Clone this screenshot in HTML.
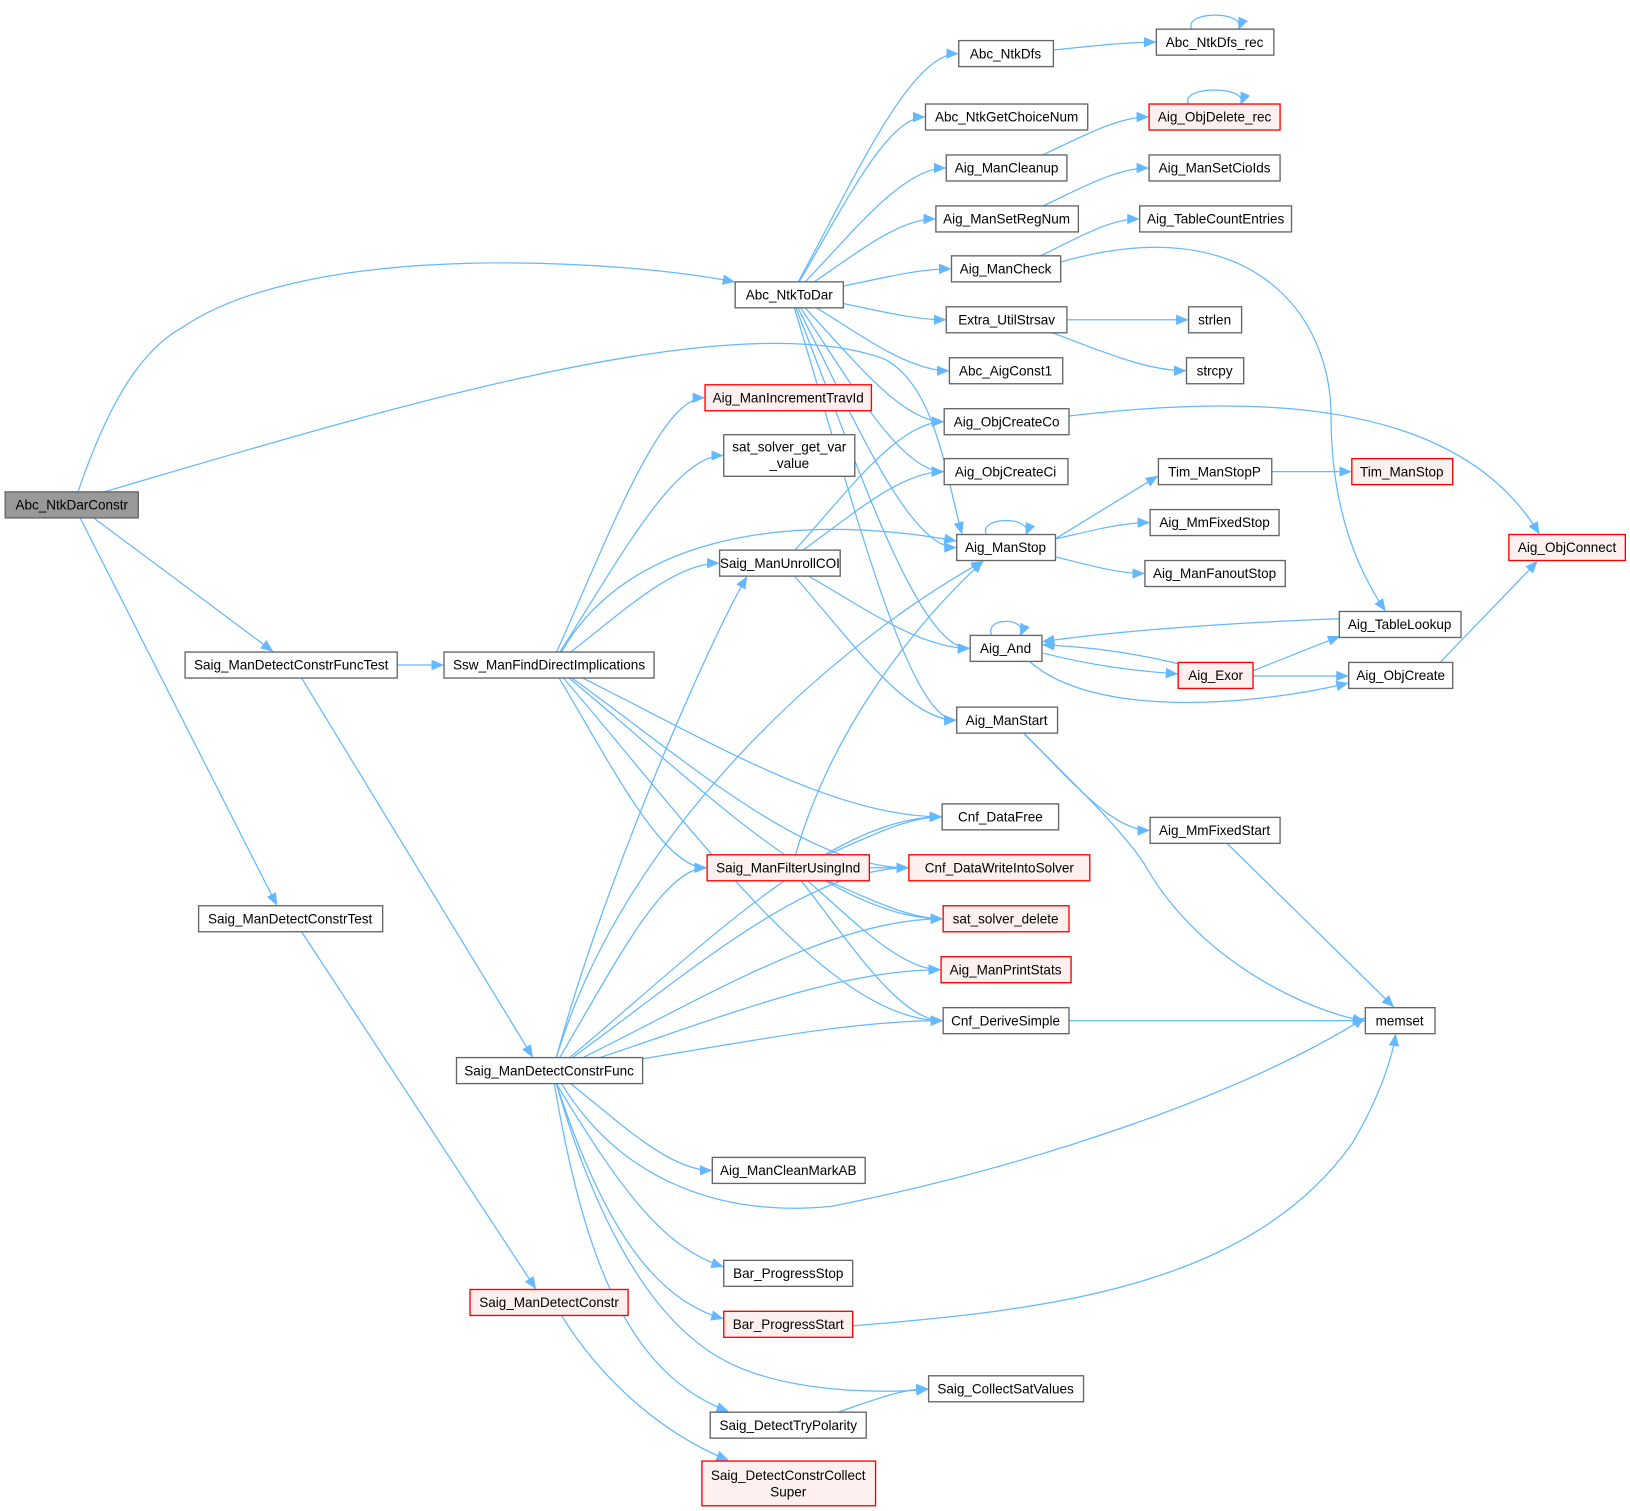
<!DOCTYPE html>
<html><head><meta charset="utf-8"><style>
html,body{margin:0;padding:0;background:#fff;}
svg{display:block;}
text{font-family:"Liberation Sans",Arial,sans-serif;font-size:13px;fill:#000;text-anchor:middle;}
.n{fill:#fff;stroke:#666;stroke-width:1.3;}
.r{fill:#fff0f0;stroke:#f00;stroke-width:1.3;}
.g{fill:#999;stroke:#666;stroke-width:1.3;}
.e{fill:none;stroke:#63b8ff;stroke-width:1.2;}
</style></head><body>
<svg id="s" width="1630" height="1511" viewBox="0 0 1567.5 1453" xmlns="http://www.w3.org/2000/svg">
<defs><marker id="a" markerWidth="12" markerHeight="10" refX="11" refY="5" orient="auto" markerUnits="userSpaceOnUse"><path d="M0,0 L12,5 L0,10 z" fill="#63b8ff"/></marker></defs>
<g id="edges"></g>
<g id="nodes">
<rect class="g" x="5" y="473" width="128" height="25"/><text x="69" y="490">Abc_NtkDarConstr</text>
<rect class="n" x="707" y="271" width="104" height="25"/><text x="759" y="288">Abc_NtkToDar</text>
<rect class="n" x="922" y="39" width="91" height="25"/><text x="967" y="56">Abc_NtkDfs</text>
<rect class="n" x="1112" y="28" width="113" height="25"/><text x="1168" y="45">Abc_NtkDfs_rec</text>
<rect class="n" x="890" y="100" width="156" height="25"/><text x="968" y="117">Abc_NtkGetChoiceNum</text>
<rect class="r" x="1105" y="100" width="126" height="25"/><text x="1168" y="117">Aig_ObjDelete_rec</text>
<rect class="n" x="910" y="149" width="116" height="25"/><text x="968" y="166">Aig_ManCleanup</text>
<rect class="n" x="1105" y="149" width="126" height="25"/><text x="1168" y="166">Aig_ManSetCioIds</text>
<rect class="n" x="900" y="198" width="137" height="25"/><text x="968" y="215">Aig_ManSetRegNum</text>
<rect class="n" x="1096" y="198" width="146" height="25"/><text x="1169" y="215">Aig_TableCountEntries</text>
<rect class="n" x="915" y="246" width="105" height="25"/><text x="967" y="263">Aig_ManCheck</text>
<rect class="n" x="910" y="295" width="116" height="25"/><text x="968" y="312">Extra_UtilStrsav</text>
<rect class="n" x="1143" y="295" width="51" height="25"/><text x="1168" y="312">strlen</text>
<rect class="n" x="913" y="344" width="109" height="25"/><text x="967" y="361">Abc_AigConst1</text>
<rect class="n" x="1141" y="344" width="55" height="25"/><text x="1168" y="361">strcpy</text>
<rect class="r" x="678" y="370" width="160" height="25"/><text x="758" y="387">Aig_ManIncrementTravId</text>
<rect class="n" x="908" y="393" width="120" height="25"/><text x="968" y="410">Aig_ObjCreateCo</text>
<rect class="n" x="696" y="418" width="126" height="40"/><text x="759" y="434">sat_solver_get_var</text><text x="759" y="450">_value</text>
<rect class="n" x="908" y="441" width="119" height="25"/><text x="967" y="458">Aig_ObjCreateCi</text>
<rect class="n" x="1114" y="441" width="109" height="25"/><text x="1168" y="458">Tim_ManStopP</text>
<rect class="r" x="1300" y="441" width="97" height="25"/><text x="1348" y="458">Tim_ManStop</text>
<rect class="n" x="920" y="514" width="95" height="25"/><text x="967" y="531">Aig_ManStop</text>
<rect class="n" x="1106" y="490" width="124" height="25"/><text x="1168" y="507">Aig_MmFixedStop</text>
<rect class="r" x="1451" y="514" width="112" height="25"/><text x="1507" y="531">Aig_ObjConnect</text>
<rect class="n" x="692" y="529" width="116" height="25"/><text x="750" y="546">Saig_ManUnrollCOI</text>
<rect class="n" x="1101" y="539" width="135" height="25"/><text x="1168" y="556">Aig_ManFanoutStop</text>
<rect class="n" x="1288" y="588" width="117" height="25"/><text x="1346" y="605">Aig_TableLookup</text>
<rect class="n" x="933" y="611" width="69" height="25"/><text x="967" y="628">Aig_And</text>
<rect class="n" x="178" y="627" width="204" height="25"/><text x="280" y="644">Saig_ManDetectConstrFuncTest</text>
<rect class="n" x="427" y="627" width="202" height="25"/><text x="528" y="644">Ssw_ManFindDirectImplications</text>
<rect class="r" x="1133" y="637" width="72" height="25"/><text x="1169" y="654">Aig_Exor</text>
<rect class="n" x="1297" y="637" width="100" height="25"/><text x="1347" y="654">Aig_ObjCreate</text>
<rect class="n" x="920" y="680" width="97" height="25"/><text x="968" y="697">Aig_ManStart</text>
<rect class="n" x="906" y="773" width="112" height="25"/><text x="962" y="790">Cnf_DataFree</text>
<rect class="n" x="1106" y="786" width="125" height="25"/><text x="1168" y="803">Aig_MmFixedStart</text>
<rect class="r" x="680" y="822" width="156" height="25"/><text x="758" y="839">Saig_ManFilterUsingInd</text>
<rect class="r" x="874" y="822" width="174" height="25"/><text x="961" y="839">Cnf_DataWriteIntoSolver</text>
<rect class="r" x="907" y="871" width="121" height="25"/><text x="967" y="888">sat_solver_delete</text>
<rect class="n" x="191" y="871" width="177" height="25"/><text x="279" y="888">Saig_ManDetectConstrTest</text>
<rect class="r" x="905" y="920" width="125" height="25"/><text x="967" y="937">Aig_ManPrintStats</text>
<rect class="n" x="907" y="969" width="121" height="25"/><text x="967" y="986">Cnf_DeriveSimple</text>
<rect class="n" x="1313" y="969" width="67" height="25"/><text x="1346" y="986">memset</text>
<rect class="n" x="439" y="1017" width="179" height="25"/><text x="528" y="1034">Saig_ManDetectConstrFunc</text>
<rect class="n" x="685" y="1113" width="147" height="25"/><text x="758" y="1130">Aig_ManCleanMarkAB</text>
<rect class="n" x="696" y="1212" width="124" height="25"/><text x="758" y="1229">Bar_ProgressStop</text>
<rect class="r" x="452" y="1240" width="152" height="25"/><text x="528" y="1257">Saig_ManDetectConstr</text>
<rect class="r" x="696" y="1261" width="124" height="25"/><text x="758" y="1278">Bar_ProgressStart</text>
<rect class="n" x="893" y="1323" width="149" height="25"/><text x="967" y="1340">Saig_CollectSatValues</text>
<rect class="n" x="683" y="1358" width="150" height="25"/><text x="758" y="1375">Saig_DetectTryPolarity</text>
<rect class="r" x="675" y="1405" width="167" height="43"/><text x="758" y="1423">Saig_DetectConstrCollect</text><text x="758" y="1439">Super</text>
</g>
</svg>
<script>
var B={};
document.querySelectorAll('#nodes rect').forEach(function(r){
 var t=r.nextElementSibling.textContent;
 B[t]={x:+r.getAttribute('x'),y:+r.getAttribute('y'),w:+r.getAttribute('width'),h:+r.getAttribute('height')};
});
B['sat_solver_get_var_value']=B['sat_solver_get_var'];
B['Saig_DetectConstrCollectSuper']=B['Saig_DetectConstrCollect'];
var O={
'Abc_NtkDarConstr>Abc_NtkToDar':'M75,473 C100,400 130,340 175,315 C300,230 600,250 706,271',
'Abc_NtkDarConstr>Aig_ManStop':'M100,473 C350,400 700,290 850,345 C900,370 910,460 925,513',
'Abc_NtkDarConstr>Saig_ManDetectConstrFuncTest':'M90,498 L262,626',
'Abc_NtkDarConstr>Saig_ManDetectConstrTest':'M77,498 L266,870',
'Saig_ManDetectConstrFuncTest>Saig_ManDetectConstrFunc':'M290,652 L512,1016',
'Saig_ManDetectConstrTest>Saig_ManDetectConstr':'M290,896 L515,1239',
'Aig_ManCheck>Aig_TableLookup':'M1020,252 C1200,200 1280,300 1280,400 C1280,480 1300,540 1332,587',
'Aig_ObjCreateCo>Aig_ObjConnect':'M1028,400 C1200,380 1400,380 1480,513',
'Aig_ObjCreate>Aig_ObjConnect':'M1385,637 C1420,600 1450,570 1478,540',
'Aig_Exor>Aig_And':'M1140,640 C1080,625 1040,622 1003,620',
'Aig_And>Aig_Exor':'M1003,628 C1050,640 1090,645 1132,648',
'Aig_TableLookup>Aig_And':'M1288,595 C1150,600 1050,610 1003,617',
'Aig_And>Aig_ObjCreate':'M990,636 C1050,690 1200,680 1296,657',
'Aig_Exor>Aig_TableLookup':'M1205,645 L1288,612',
'Aig_Exor>Aig_ObjCreate':'M1205,650 L1296,650',
'Aig_ManStart>memset':'M985,706 C1040,760 1080,800 1100,830 C1150,920 1250,970 1312,982',
'Aig_MmFixedStart>memset':'M1180,811 L1340,968',
'Bar_ProgressStart>memset':'M820,1275 C1000,1260 1200,1240 1300,1100 C1330,1050 1340,1010 1342,995',
'Saig_ManDetectConstrFunc>memset':'M540,1042 C600,1140 700,1170 800,1160 C1000,1120 1200,1050 1312,979',
'Saig_ManDetectConstrFunc>Aig_ManStop':'M535,1017 C600,800 800,620 945,540',
'Saig_ManDetectConstrFunc>Saig_ManUnrollCOI':'M535,1017 C580,850 680,620 718,555',
'Saig_ManFilterUsingInd>Aig_ManStop':'M765,822 C800,700 880,600 945,540',
'Ssw_ManFindDirectImplications>Aig_ManStop':'M540,627 C600,520 750,490 919,520',
'Aig_ManStop>Tim_ManStopP':'M1015,518 L1113,458',
'Saig_ManDetectConstr>Saig_DetectConstrCollectSuper':'M540,1265 C580,1330 640,1380 700,1404',
'Saig_ManDetectConstrFunc>Saig_DetectTryPolarity':'M533,1042 C560,1200 600,1320 700,1357',
'Saig_ManDetectConstrFunc>Saig_CollectSatValues':'M535,1042 C580,1200 640,1280 700,1310 C760,1340 850,1340 892,1336',
'Saig_ManDetectConstrFunc>Bar_ProgressStart':'M535,1042 C580,1180 630,1250 695,1268',
'Saig_ManDetectConstrFunc>Bar_ProgressStop':'M535,1042 C600,1150 640,1200 695,1218'
};
var E=[
['Abc_NtkDarConstr','Abc_NtkToDar'],['Abc_NtkDarConstr','Aig_ManStop'],['Abc_NtkDarConstr','Saig_ManDetectConstrFuncTest'],['Abc_NtkDarConstr','Saig_ManDetectConstrTest'],
['Abc_NtkToDar','Abc_NtkDfs'],['Abc_NtkToDar','Abc_NtkGetChoiceNum'],['Abc_NtkToDar','Aig_ManCleanup'],['Abc_NtkToDar','Aig_ManSetRegNum'],['Abc_NtkToDar','Aig_ManCheck'],['Abc_NtkToDar','Extra_UtilStrsav'],['Abc_NtkToDar','Abc_AigConst1'],['Abc_NtkToDar','Aig_ObjCreateCo'],['Abc_NtkToDar','Aig_ObjCreateCi'],['Abc_NtkToDar','Aig_ManStop'],['Abc_NtkToDar','Aig_And'],['Abc_NtkToDar','Aig_ManStart'],
['Abc_NtkDfs','Abc_NtkDfs_rec'],['Aig_ManCleanup','Aig_ObjDelete_rec'],['Aig_ManSetRegNum','Aig_ManSetCioIds'],['Aig_ManCheck','Aig_TableCountEntries'],['Aig_ManCheck','Aig_TableLookup'],
['Extra_UtilStrsav','strlen'],['Extra_UtilStrsav','strcpy'],['Aig_ObjCreateCo','Aig_ObjConnect'],
['Aig_ManStop','Tim_ManStopP'],['Aig_ManStop','Aig_MmFixedStop'],['Aig_ManStop','Aig_ManFanoutStop'],['Tim_ManStopP','Tim_ManStop'],
['Aig_TableLookup','Aig_And'],['Aig_And','Aig_Exor'],['Aig_Exor','Aig_And'],['Aig_And','Aig_ObjCreate'],['Aig_Exor','Aig_TableLookup'],['Aig_Exor','Aig_ObjCreate'],['Aig_ObjCreate','Aig_ObjConnect'],
['Aig_ManStart','Aig_MmFixedStart'],['Aig_ManStart','memset'],['Aig_MmFixedStart','memset'],['Cnf_DeriveSimple','memset'],['Bar_ProgressStart','memset'],
['Saig_ManDetectConstrFuncTest','Ssw_ManFindDirectImplications'],['Saig_ManDetectConstrFuncTest','Saig_ManDetectConstrFunc'],
['Ssw_ManFindDirectImplications','Aig_ManIncrementTravId'],['Ssw_ManFindDirectImplications','sat_solver_get_var_value'],['Ssw_ManFindDirectImplications','Aig_ManStop'],['Ssw_ManFindDirectImplications','Saig_ManUnrollCOI'],['Ssw_ManFindDirectImplications','Cnf_DataFree'],['Ssw_ManFindDirectImplications','Cnf_DataWriteIntoSolver'],['Ssw_ManFindDirectImplications','sat_solver_delete'],['Ssw_ManFindDirectImplications','Saig_ManFilterUsingInd'],['Ssw_ManFindDirectImplications','Cnf_DeriveSimple'],
['Saig_ManUnrollCOI','Aig_ObjCreateCo'],['Saig_ManUnrollCOI','Aig_ObjCreateCi'],['Saig_ManUnrollCOI','Aig_And'],['Saig_ManUnrollCOI','Aig_ManStart'],
['Saig_ManFilterUsingInd','Aig_ManStop'],['Saig_ManFilterUsingInd','Cnf_DataFree'],['Saig_ManFilterUsingInd','Cnf_DataWriteIntoSolver'],['Saig_ManFilterUsingInd','sat_solver_delete'],['Saig_ManFilterUsingInd','Aig_ManPrintStats'],['Saig_ManFilterUsingInd','Cnf_DeriveSimple'],
['Saig_ManDetectConstrFunc','Saig_ManUnrollCOI'],['Saig_ManDetectConstrFunc','Aig_ManStop'],['Saig_ManDetectConstrFunc','Cnf_DataFree'],['Saig_ManDetectConstrFunc','Saig_ManFilterUsingInd'],['Saig_ManDetectConstrFunc','Cnf_DataWriteIntoSolver'],['Saig_ManDetectConstrFunc','sat_solver_delete'],['Saig_ManDetectConstrFunc','Aig_ManPrintStats'],['Saig_ManDetectConstrFunc','Cnf_DeriveSimple'],['Saig_ManDetectConstrFunc','memset'],['Saig_ManDetectConstrFunc','Aig_ManCleanMarkAB'],['Saig_ManDetectConstrFunc','Bar_ProgressStop'],['Saig_ManDetectConstrFunc','Bar_ProgressStart'],['Saig_ManDetectConstrFunc','Saig_CollectSatValues'],['Saig_ManDetectConstrFunc','Saig_DetectTryPolarity'],
['Saig_DetectTryPolarity','Saig_CollectSatValues'],['Saig_ManDetectConstrTest','Saig_ManDetectConstr'],['Saig_ManDetectConstr','Saig_DetectConstrCollectSuper']
];
var g=document.getElementById('edges'),ns='http://www.w3.org/2000/svg';
function clip(b,tx,ty){var cx=b.x+b.w/2,cy=b.y+b.h/2,dx=tx-cx,dy=ty-cy;
 var s=Math.min(dx?Math.abs(b.w/2/dx):1e9,dy?Math.abs(b.h/2/dy):1e9);return [cx+dx*s,cy+dy*s];}
function add(d){var p=document.createElementNS(ns,'path');p.setAttribute('d',d);p.setAttribute('class','e');p.setAttribute('marker-end','url(#a)');g.appendChild(p);}
E.forEach(function(e){
 var k=e[0]+'>'+e[1];if(O[k]){add(O[k]);return;}
 var a=B[e[0]],b=B[e[1]];
 var acx=a.x+a.w/2,acy=a.y+a.h/2,bcx=b.x+b.w/2,bcy=b.y+b.h/2;
 var ex,ey;
 if(bcx>acx+30){ex=b.x-1;ey=bcy;} else if(bcx<acx-30){ex=b.x+b.w+1;ey=bcy;} else {ex=bcx;ey=bcy>acy?b.y:b.y+b.h;}
 var s=clip(a,ex,ey);var dx=ex-s[0];
 var c1x=s[0]+(ex-s[0])*0.35,c1y=s[1]+(ey-s[1])*0.45,c2x=ex-Math.abs(dx)*0.3,c2y=ey;
 add('M'+s[0]+','+s[1]+' C'+c1x+','+c1y+' '+c2x+','+c2y+' '+ex+','+ey);
});
['Abc_NtkDfs_rec','Aig_ObjDelete_rec','Aig_ManStop','Aig_And'].forEach(function(n){var b=B[n];
 var x1=b.x+b.w*0.3,x2=b.x+b.w*0.7;add('M'+x1+','+b.y+' C'+(x1-8)+','+(b.y-18)+' '+(x2+8)+','+(b.y-18)+' '+x2+','+b.y);});
</script>
</body></html>
